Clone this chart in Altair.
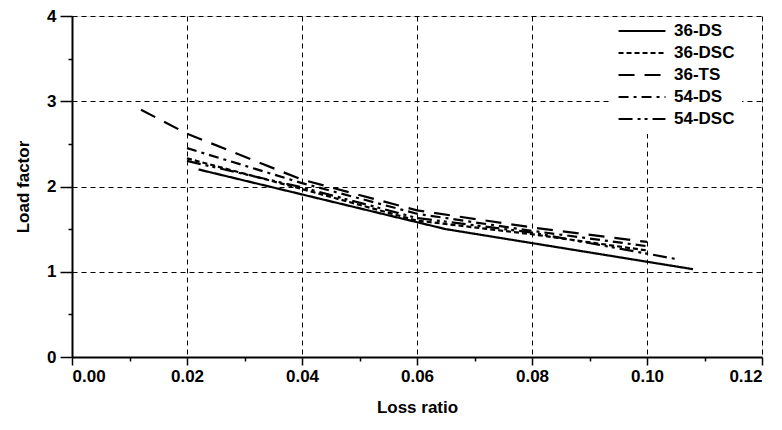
import altair as alt
import pandas as pd

series = ["36-DS", "36-DSC", "36-TS", "54-DS", "54-DSC"]

x_36ds = [0.022, 0.065, 0.108]
y_36ds = [2.20, 1.50, 1.03]

x_36dsc = [0.020, 0.040, 0.060, 0.080, 0.100]
y_36dsc = [2.33, 1.97, 1.60, 1.44, 1.25]

x_36ts = [0.012, 0.020, 0.040, 0.060, 0.080, 0.100]
y_36ts = [2.90, 2.62, 2.08, 1.72, 1.52, 1.35]

x_54ds = [0.020, 0.040, 0.060, 0.080, 0.100]
y_54ds = [2.45, 2.04, 1.68, 1.48, 1.30]

x_54dsc = [0.020, 0.040, 0.060, 0.080, 0.105]
y_54dsc = [2.30, 1.99, 1.63, 1.46, 1.15]

rows = []
for name, xs, ys in [("36-DS", x_36ds, y_36ds), ("36-DSC", x_36dsc, y_36dsc),
                     ("36-TS", x_36ts, y_36ts), ("54-DS", x_54ds, y_54ds),
                     ("54-DSC", x_54dsc, y_54dsc)]:
    for i, (a, b) in enumerate(zip(xs, ys)):
        rows.append({"series": name, "x": a, "y": b, "order": i})
df = pd.DataFrame(rows)

x_ticks = [round(i * 0.01, 2) for i in range(13)]
y_ticks = [i * 0.5 for i in range(9)]

FONT = "Liberation Sans"

chart = alt.Chart(df).mark_line(color="black", strokeWidth=2.2).encode(
    x=alt.X("x:Q", title="Loss ratio",
            scale=alt.Scale(domain=[0, 0.12], nice=False),
            axis=alt.Axis(values=x_ticks,
                          labelExpr="round(datum.value*100) % 2 == 0 ? format(datum.value, '.2f') : ''",
                          gridOpacity={"condition": {"test": "round(datum.value*100) % 2 == 0", "value": 1}, "value": 0},
                          tickSize={"condition": {"test": "round(datum.value*100) % 2 == 0", "value": 8}, "value": 4},
                          grid=True, gridColor="black", gridDash=[5, 4], gridWidth=1,
                          domainColor="black", domainWidth=2, tickColor="black", tickWidth=1.5,
                          labelFont=FONT, labelFontSize=17, labelFontWeight="bold", labelColor="black",
                          labelPadding=3, titleFont=FONT, titleFontSize=17, titleFontWeight="bold",
                          titleColor="black", titlePadding=15)),
    y=alt.Y("y:Q", title="Load factor",
            scale=alt.Scale(domain=[0, 4], nice=False),
            axis=alt.Axis(values=y_ticks,
                          labelExpr="datum.value % 1 == 0 ? format(datum.value, 'd') : ''",
                          gridOpacity={"condition": {"test": "datum.value % 1 == 0", "value": 1}, "value": 0},
                          tickSize={"condition": {"test": "datum.value % 1 == 0", "value": 12}, "value": 4},
                          grid=True, gridColor="black", gridDash=[5, 4], gridWidth=1,
                          domainColor="black", domainWidth=2, tickColor="black", tickWidth=1.5,
                          labelFont=FONT, labelFontSize=17, labelFontWeight="bold", labelColor="black",
                          labelPadding=4, titleFont=FONT, titleFontSize=17, titleFontWeight="bold",
                          titleColor="black", titlePadding=14)),
    strokeDash=alt.StrokeDash("series:N",
                              scale=alt.Scale(domain=series,
                                              range=[[1, 0], [5, 3], [16, 10], [10, 5, 3, 5], [14, 5, 3, 4, 3, 5]]),
                              legend=alt.Legend(title=None, orient="none", legendX=539, legendY=1,
                                                symbolType="stroke", symbolSize=2200, symbolStrokeWidth=2.2,
                                                symbolStrokeColor="black", clipHeight=16,
                                                fillColor="white", padding=6, strokeColor="white",
                                                labelFont=FONT, labelFontSize=17, labelFontWeight="bold",
                                                labelColor="black", rowPadding=5, labelOffset=7)),
    order="order:Q",
    detail="series:N",
).properties(
    width=690, height=341,
    padding={"left": 72, "top": 16, "right": 20, "bottom": 73},
    autosize=alt.AutoSizeParams(type="none"),
).configure_view(stroke="black", strokeWidth=1.5).configure(background="white")

chart.save("out.html", embed_options={"renderer": "svg", "actions": False})
